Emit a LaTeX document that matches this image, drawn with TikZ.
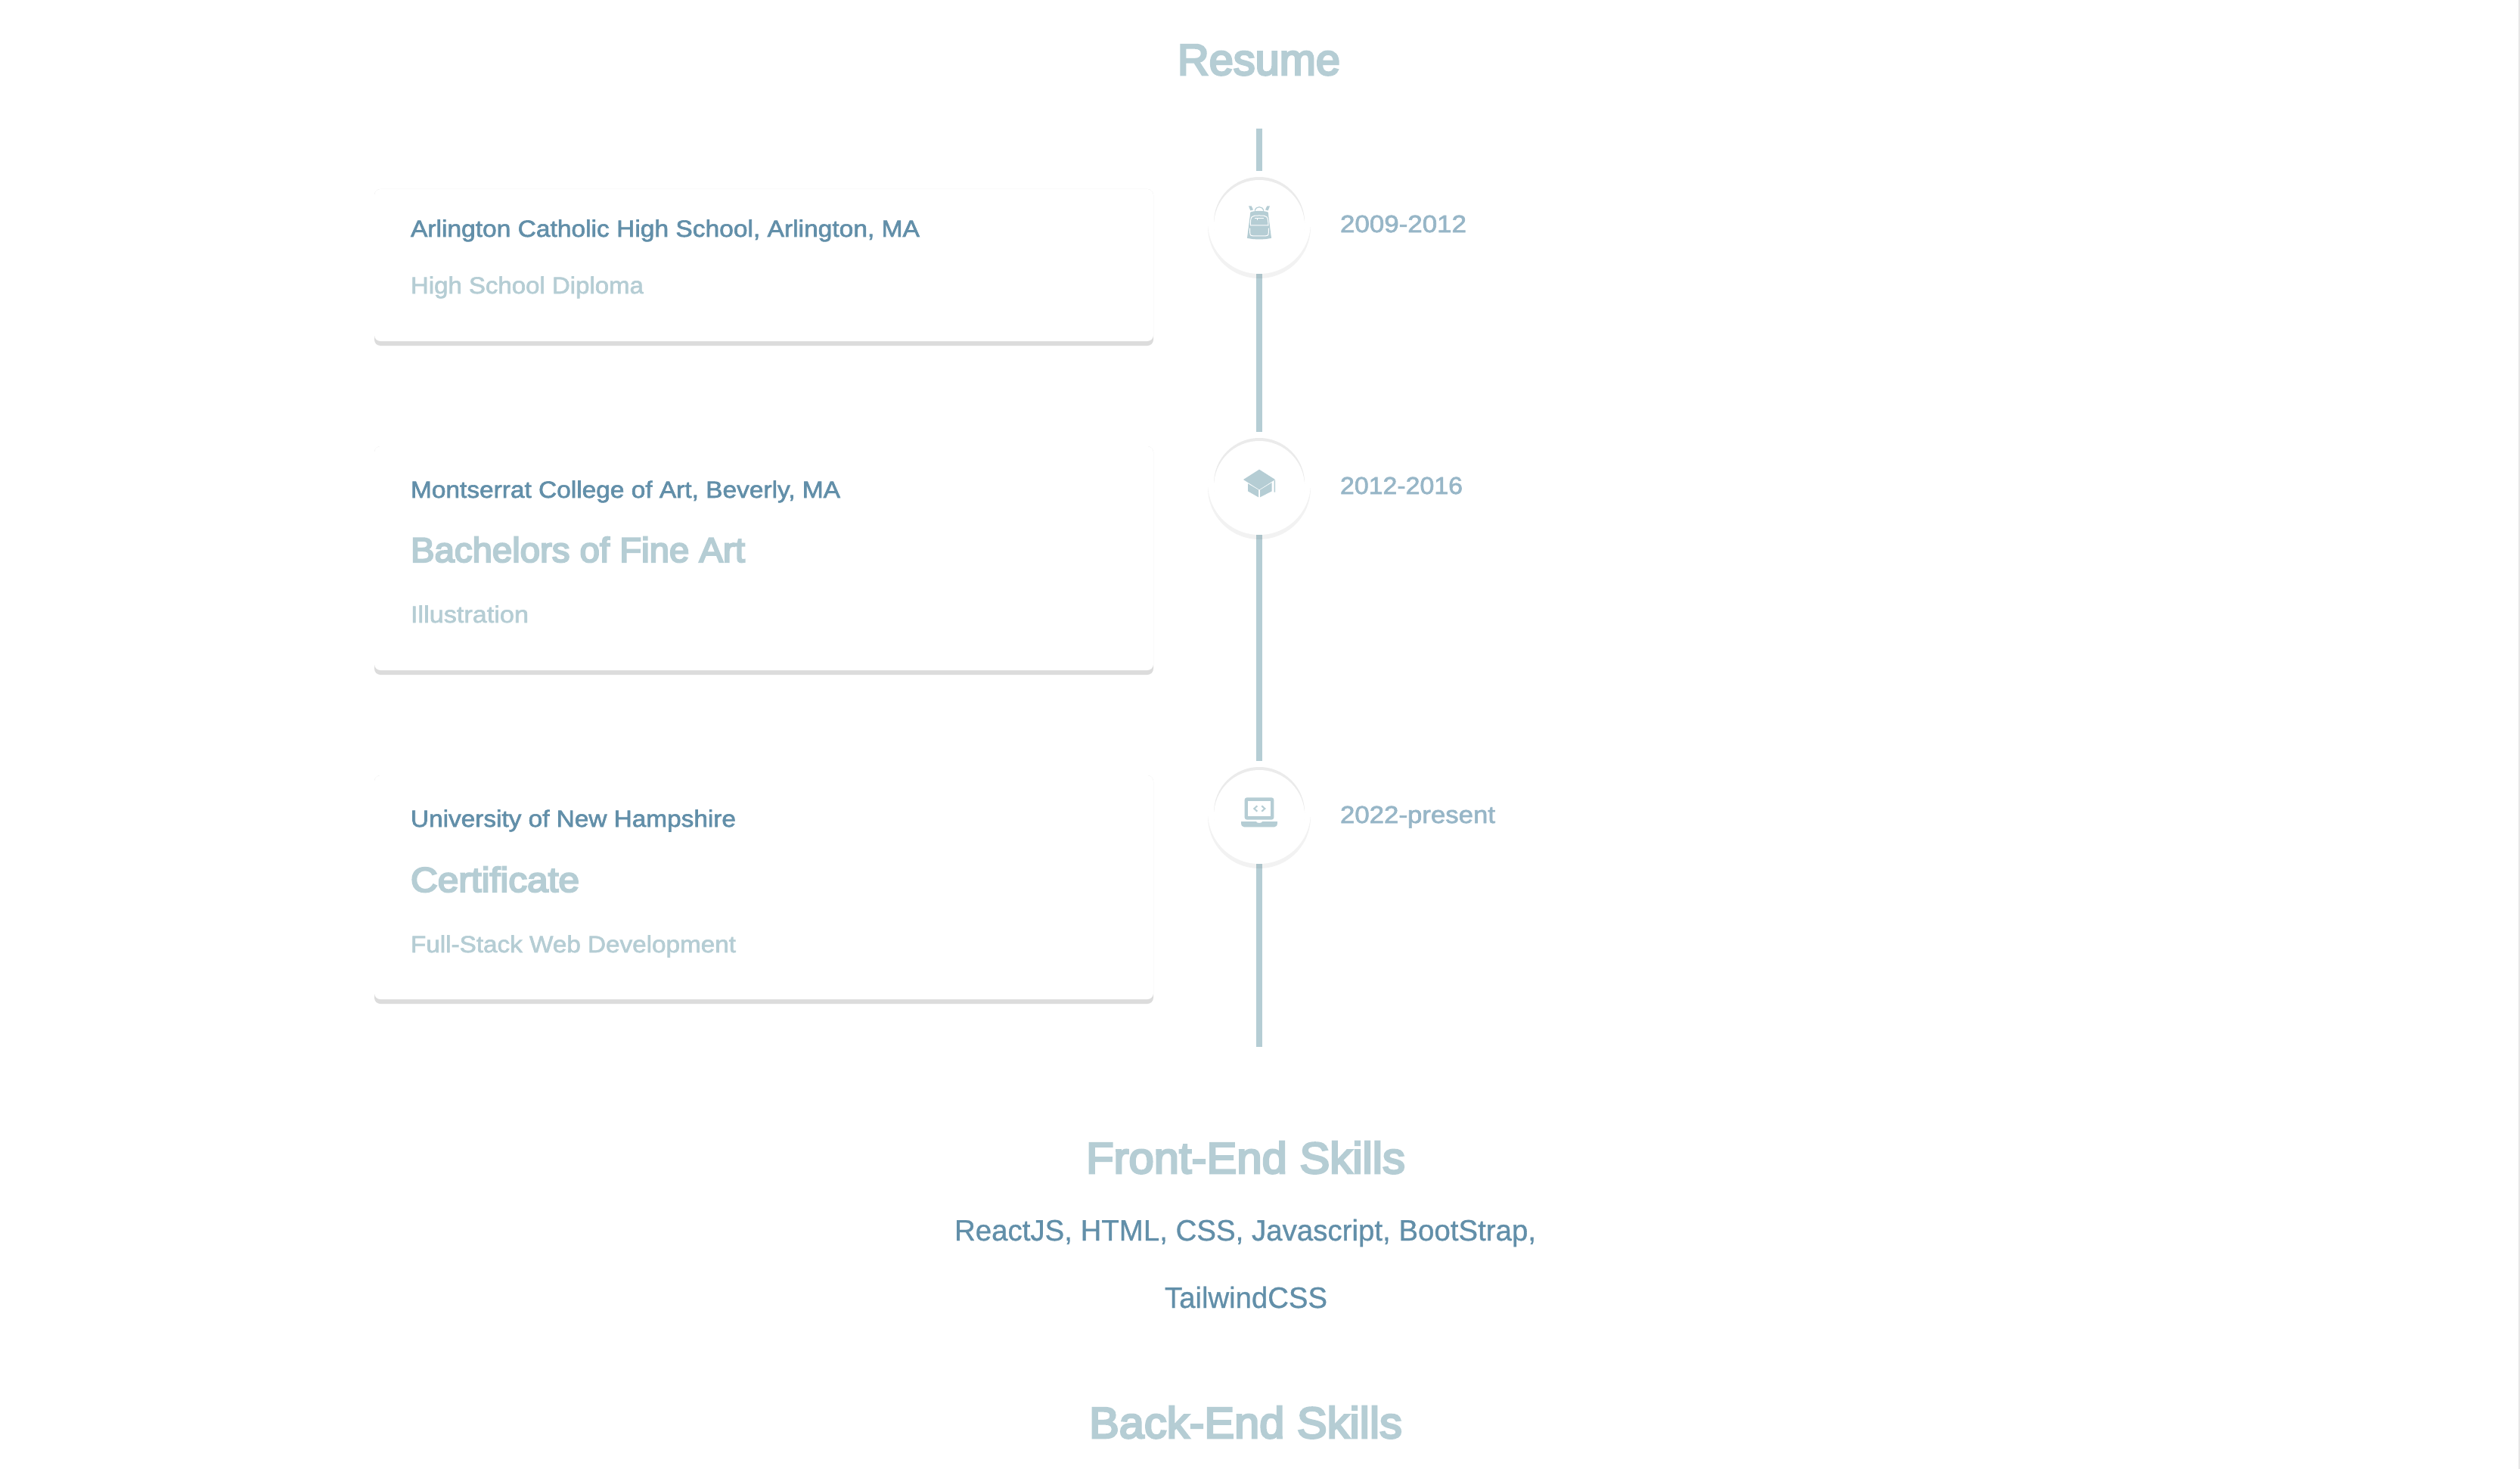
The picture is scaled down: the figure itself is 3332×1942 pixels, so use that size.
\documentclass[tikz,border=0pt]{standalone}
\usepackage{fontspec}
\usepackage{graphicx}
\usetikzlibrary{backgrounds}
\setmainfont{Liberation Sans}
\newfontfamily\regf[FakeBold=0.8]{Liberation Sans}
\newfontfamily\medf[FakeBold=2]{Liberation Sans}
\newfontfamily\headf[FakeBold=4.5]{Liberation Sans}
\definecolor{pale}{HTML}{B5CDD4}
\definecolor{deep}{HTML}{628FA9}
\definecolor{datec}{HTML}{97B6C7}
\definecolor{barc}{HTML}{DCDCDC}
\definecolor{insetc}{HTML}{EBEBEB}
\definecolor{scrollc}{HTML}{E6E6E6}
% width given in pt (1 px = 0.5 pt); only horizontal scale changes
\newcommand{\wfit}[2]{\resizebox{#1pt}{\height}{#2}}
\tikzset{
  txt/.style={anchor=base west,inner sep=0pt,outer sep=0pt},
  heading/.style={txt,text=pale,font=\headf\fontsize{29}{29}\selectfont},
  bigsub/.style={txt,text=pale,font=\headf\fontsize{23}{23}\selectfont},
  school/.style={txt,text=deep,font=\medf\fontsize{15.5}{16}\selectfont},
  minor/.style={txt,text=pale,font=\medf\fontsize{15.5}{16}\selectfont},
  skill/.style={txt,text=deep,font=\regf\fontsize{19.5}{20}\selectfont},
  dateT/.style={txt,text=datec,font=\medf\fontsize{16}{16}\selectfont},
  ring/.style={circle,fill=white,inner sep=0pt,outer sep=0pt,minimum size=68pt},
  tl/.style={draw=pale,line width=4pt},
  icon/.style={fill=pale,draw=none},
  cut/.style={draw=white,line width=0.5pt,fill=none},
}
\newcommand{\rdisc}[1]{%
  \begin{scope}[shift={(c#1.center)}]
    \fill[insetc] (0,0) circle (30pt);
    \fill[white] (0,4) circle (30pt);
  \end{scope}}
\newcommand{\dropshade}[1]{\fill[black,opacity=0.05] ([yshift=-3pt]c#1.center) circle (34pt);}
\newcommand{\rcard}[3]{%
  \fill[barc,rounded corners=4pt] (495,#1) rectangle (1525,#3);
  \fill[white,rounded corners=4pt] (495,#1) rectangle (1525,#2);}
\begin{document}
\begin{tikzpicture}[x=0.5pt,y=-0.5pt]
\useasboundingbox (0,0) rectangle (3332,1942);

% ring nodes and free line ends
\node[ring] (c1) at (1665,294) {};
\node[ring] (c2) at (1665,639) {};
\node[ring] (c3) at (1665,1074) {};
\coordinate (linetop) at (1665,170);
\coordinate (lineend) at (1665,1384);

\begin{pgfonlayer}{background}
  \fill[white] (0,0) rectangle (3332,1942);
  \draw[tl] (linetop) -- (c1.north);
  \draw[tl] (c1.south) -- (c2.north);
  \draw[tl] (c2.south) -- (c3.north);
  \draw[tl] (c3.south) -- (lineend);
  \dropshade{1}\dropshade{2}\dropshade{3}
\end{pgfonlayer}

\fill[scrollc] (3330,0) rectangle (3332,1942);

\rdisc{1}\rdisc{2}\rdisc{3}

% cards
\rcard{250}{451}{457}
\rcard{590}{886}{892}
\rcard{1025}{1321}{1327}

% backpack
\begin{scope}[shift={(1540,150)},x=0.5pt/3,y=-0.5pt/3]
  \fill[icon] (340,392) .. controls (350,385) and (400,385) .. (410,392)
     -- (423,494) .. controls (400,501) and (350,501) .. (327,494) -- cycle;
  \draw[pale,line width=0.6pt] (358,386) .. controls (360,366) and (390,366) .. (392,386);
  \fill[icon] (333,367) -- (344,367) -- (351,382) -- (340,385) -- cycle;
  \fill[icon] (417,367) -- (406,367) -- (399,382) -- (410,385) -- cycle;
  \draw[cut] (340,444) .. controls (340,405) and (345,405) .. (375,405) .. controls (405,405) and (410,405) .. (411,444) -- cycle;
  \draw[cut] (338,455) -- (338,472) .. controls (338,485) and (345,486) .. (352,486) -- (398,486) .. controls (405,486) and (412,485) .. (412,472) -- (412,455);
  \draw[cut] (358,415) -- (392,415) (367,415) -- (367,423);
\end{scope}

% graduation cap
\begin{scope}[shift={(1540,560)},x=0.5pt/3,y=-0.5pt/3]
  \fill[icon] (312,222) -- (375,182) -- (438,222) -- (375,262) -- cycle;
  \fill[icon] (330,238) -- (372,263) -- (372,292) -- (330,268) -- cycle;
  \fill[icon] (378,263) -- (425,234) -- (425,268) -- (378,292) -- cycle;
  \fill[icon] (434,226) -- (438,224) -- (438,272) -- (434,272) -- cycle;
\end{scope}

% laptop
\begin{scope}[shift={(1540,990)},x=0.5pt/3,y=-0.5pt/3]
  \fill[icon,rounded corners=1.5pt] (317,193) rectangle (433,281);
  \fill[white] (331,206) rectangle (419,266);
  \draw[pale,line width=1pt] (367,226) -- (355,237) -- (367,248);
  \draw[pale,line width=1pt] (385,226) -- (397,237) -- (385,248);
  \fill[icon] (303,288) -- (362,288) .. controls (366,296) and (384,296) .. (388,288) -- (447,288)
     .. controls (447,304) and (444,310) .. (435,310) -- (315,310) .. controls (306,310) and (303,304) .. (303,288) -- cycle;
\end{scope}

% texts
\node[heading] (resume) at (1557,99) {\wfit{107.5}{Resume}};

\node[school] (s1) at (543,313) {\wfit{336.5}{Arlington Catholic High School, Arlington, MA}};
\node[minor] (d1) at (543,388) {\wfit{154}{High School Diploma}};

\node[school] (s2) at (543,658) {\wfit{284}{Montserrat College of Art, Beverly, MA}};
\node[bigsub] (d2) at (543,743) {\wfit{221}{Bachelors of Fine Art}};
\node[minor] (f2) at (543,823) {\wfit{78}{Illustration}};

\node[school] (s3) at (543,1093) {\wfit{215}{University of New Hampshire}};
\node[bigsub] (d3) at (543,1179) {\wfit{111.5}{Certificate}};
\node[minor] (f3) at (543,1259) {\wfit{215}{Full-Stack Web Development}};

\node[dateT] (y1) at (1772,307) {\wfit{83.5}{2009-2012}};
\node[dateT] (y2) at (1772,653) {\wfit{81}{2012-2016}};
\node[dateT] (y3) at (1772,1088) {\wfit{102.5}{2022-present}};

\node[heading] (fe) at (1436,1551) {\wfit{211}{Front-End Skills}};
\node[skill] (fe1) at (1262,1640) {\wfit{384.5}{ReactJS, HTML, CSS, Javascript, BootStrap,}};
\node[skill] (fe2) at (1540,1729) {\wfit{107.5}{TailwindCSS}};
\node[heading] (be) at (1440,1901) {\wfit{207}{Back-End Skills}};
\end{tikzpicture}
\end{document}
